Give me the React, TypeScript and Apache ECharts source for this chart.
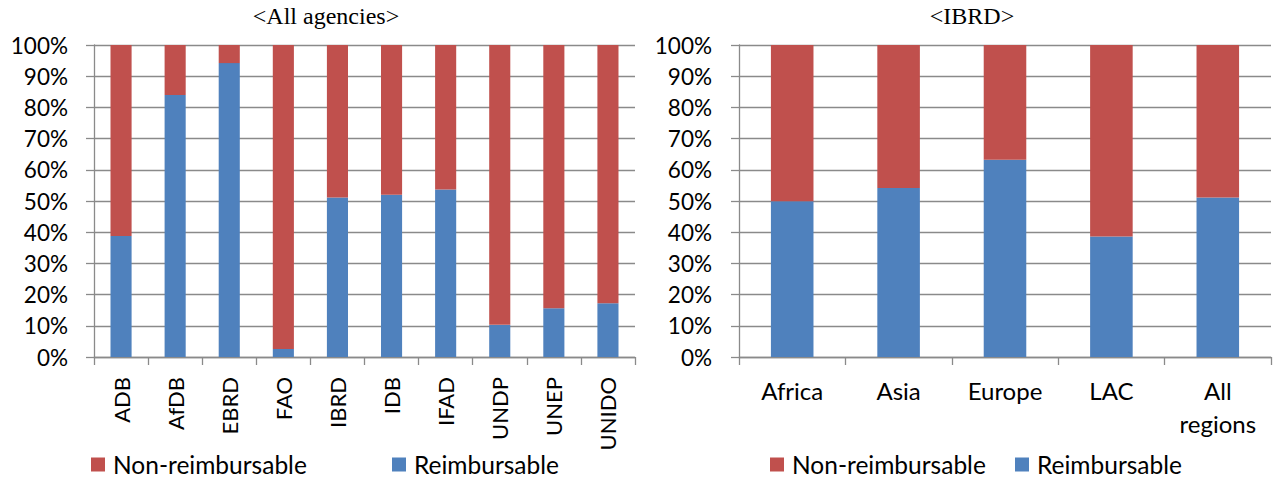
import React, { useEffect, useRef } from "react";
import * as echarts from "echarts";

const agencies = ["ADB", "AfDB", "EBRD", "FAO", "IBRD", "IDB", "IFAD", "UNDP", "UNEP", "UNIDO"];
const agencyReimbursable = [38.8, 84.0, 94.2, 2.6, 51.1, 52.0, 53.7, 10.3, 15.6, 17.2];
const agencyNonReimbursable = [61.2, 16.0, 5.8, 97.4, 48.9, 48.0, 46.3, 89.7, 84.4, 82.8];

const regions = ["Africa", "Asia", "Europe", "LAC", "All regions"];
const regionReimbursable = [49.9, 54.2, 63.2, 38.6, 51.1];
const regionNonReimbursable = [50.1, 45.8, 36.8, 61.4, 48.9];

const titles = ["<All agencies>", "<IBRD>"];
const seriesNames = ["Non-reimbursable", "Reimbursable"];

const RED = "#C0504D";
const BLUE = "#4F81BD";
const GRID = "#8A8A8A";
const FONT = "Lato";

export default function App() {
  const ref = useRef<HTMLDivElement>(null);
  useEffect(() => {
    if (!ref.current) return;
    const chart = echarts.init(ref.current, null, { renderer: "svg" });
    const yAxisCommon = (gridIndex: number, margin: number) => ({
      type: "value",
      gridIndex,
      min: 0,
      max: 100,
      interval: 10,
      axisLine: { show: true, lineStyle: { color: GRID, width: 1.3 } },
      axisTick: { show: true, length: 8, lineStyle: { color: GRID, width: 1.3 } },
      splitLine: { show: true, lineStyle: { color: GRID, width: 1.3 } },
      axisLabel: {
        formatter: "{value}%",
        fontFamily: FONT,
        fontSize: 22.5,
        color: "#000",
        margin,
      },
    });
    const xAxisCommon = (gridIndex: number, data: string[]) => ({
      type: "category",
      gridIndex,
      data,
      axisLine: { show: true, lineStyle: { color: GRID, width: 1.3 } },
      axisTick: { show: true, length: 8, lineStyle: { color: GRID, width: 1.3 } },
    });
    const legendItem = (name: string, left: number) => ({
      left,
      top: 452,
      padding: 0,
      itemWidth: 14,
      itemHeight: 14,
      icon: "rect",
      data: [name],
      textStyle: { fontFamily: FONT, fontSize: 24.5, color: "#000", padding: [0, 0, 0, 3] },
    });
    const option: any = {
      animation: false,
      title: [
        {
          text: titles[0],
          left: 326,
          top: 4,
          padding: 0,
          textAlign: "center",
          textStyle: { fontFamily: "Liberation Serif", fontSize: 24, fontWeight: "normal", color: "#000" },
        },
        {
          text: titles[1],
          left: 972,
          top: 4,
          padding: 0,
          textAlign: "center",
          textStyle: { fontFamily: "Liberation Serif", fontSize: 24, fontWeight: "normal", color: "#000" },
        },
      ],
      legend: [
        legendItem(seriesNames[0], 91),
        legendItem(seriesNames[1], 392),
        legendItem(seriesNames[0], 770),
        legendItem(seriesNames[1], 1015),
      ],
      grid: [
        { left: 94, top: 45, width: 541, height: 312 },
        { left: 739, top: 45, width: 532, height: 312 },
      ],
      xAxis: [
        {
          ...xAxisCommon(0, agencies),
          axisLabel: { rotate: 90, fontFamily: FONT, fontSize: 22, color: "#000", margin: 20, interval: 0 },
        },
        {
          ...xAxisCommon(1, regions),
          axisLabel: {
            fontFamily: FONT,
            fontSize: 24,
            color: "#000",
            margin: 17,
            interval: 0,
            lineHeight: 33,
            formatter: (v: string) => (v === "All regions" ? "All\nregions" : v),
          },
        },
      ],
      yAxis: [yAxisCommon(0, 26), yAxisCommon(1, 27)],
      series: [
        {
          name: seriesNames[1],
          type: "bar",
          stack: "a",
          xAxisIndex: 0,
          yAxisIndex: 0,
          barWidth: "39%",
          itemStyle: { color: BLUE },
          data: agencyReimbursable,
        },
        {
          name: seriesNames[0],
          type: "bar",
          stack: "a",
          xAxisIndex: 0,
          yAxisIndex: 0,
          barWidth: "39%",
          itemStyle: { color: RED },
          data: agencyNonReimbursable,
        },
        {
          name: seriesNames[1],
          type: "bar",
          stack: "b",
          xAxisIndex: 1,
          yAxisIndex: 1,
          barWidth: "40%",
          itemStyle: { color: BLUE },
          data: regionReimbursable,
        },
        {
          name: seriesNames[0],
          type: "bar",
          stack: "b",
          xAxisIndex: 1,
          yAxisIndex: 1,
          barWidth: "40%",
          itemStyle: { color: RED },
          data: regionNonReimbursable,
        },
      ],
    };
    chart.setOption(option);
    return () => chart.dispose();
  }, []);
  return (
    <div
      ref={ref}
      style={{ position: "fixed", left: 0, top: 0, width: 1275, height: 480, background: "#fff" }}
    />
  );
}
